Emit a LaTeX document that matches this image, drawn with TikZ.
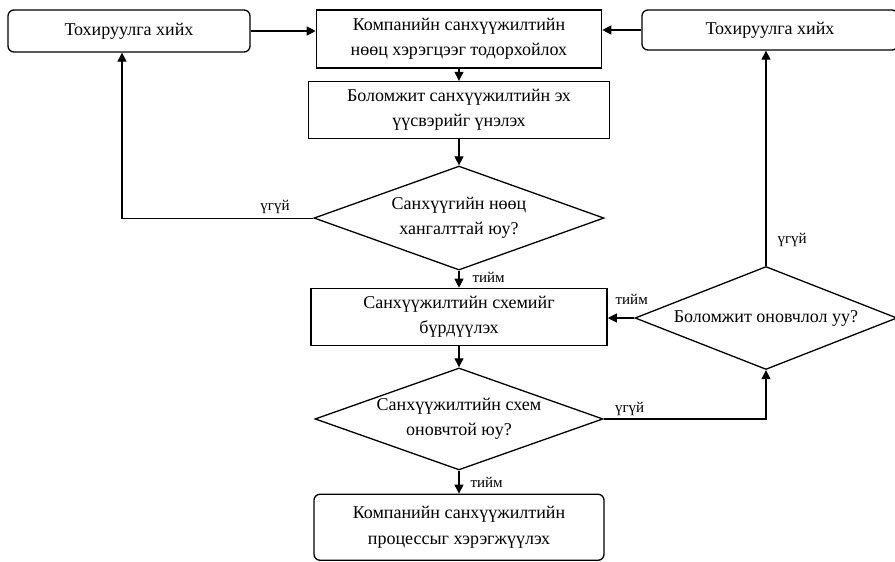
\documentclass[tikz,border=0pt]{standalone}
\usepackage{fontspec}
\setmainfont{Liberation Serif}
\usepackage{tikz}
\usetikzlibrary{arrows.meta,positioning,shapes.geometric}

\begin{document}
\begin{tikzpicture}[
			x=1pt,y=1pt,
			node distance=14pt,
			stepbox/.style={draw,line width=1.6pt,align=center,inner sep=2pt,font=\fontsize{18}{25}\selectfont},
			endbox/.style={draw,line width=1.3pt,rounded corners=6pt,align=center,inner sep=2pt,font=\fontsize{18}{26}\selectfont},
			cond/.style={draw,line width=1.3pt,diamond,aspect=2.8,inner sep=0pt,align=center,font=\fontsize{18}{25}\selectfont},
			arr/.style={-{Triangle[length=9pt,width=9pt]},line width=1.1pt},
			lbl/.style={font=\fontsize{15}{18}\selectfont,inner sep=1pt}
			]
			\useasboundingbox (0,0) rectangle (895,-562);
			% main column
			\node[stepbox,minimum width=285pt,minimum height=58pt] (need) at (459,-39) {Компанийн санхүүжилтийн\\нөөц хэрэгцээг тодорхойлох};
			\node[stepbox,minimum width=301pt,minimum height=57pt] (source) [below=12pt of need] {Боломжит санхүүжилтийн эх\\үүсвэрийг үнэлэх};
			\node[cond,minimum width=290pt,minimum height=104pt] (enough) [below=26pt of source] {Санхүүгийн нөөц\\хангалттай юу?};
			\node[stepbox,minimum width=296pt,minimum height=57pt] (scheme) [below=17pt of enough] {Санхүүжилтийн схемийг\\бүрдүүлэх};
			\node[cond,minimum width=288pt,minimum height=102pt] (optimal) [below=21pt of scheme] {Санхүүжилтийн схем\\оновчтой юу?};
			\node[endbox,minimum width=290pt,minimum height=66pt] (impl) [below=23pt of optimal] {Компанийн санхүүжилтийн\\процессыг хэрэгжүүлэх};
			% side nodes
			\node[endbox,minimum width=242pt,minimum height=42pt] (adjL) at (129,-31) {Тохируулга хийх};
			\node[endbox,minimum width=256pt,minimum height=40pt] (adjR) at (770,-30) {Тохируулга хийх};
			\node[cond,minimum width=262pt,minimum height=103pt] (possible) at (766,-318) {Боломжит оновчлол уу?};
			% connectors
			\draw[arr] (adjL.east) -- (adjL.east -| need.west);
			\draw[arr] (adjR.west) -- (adjR.west -| need.east);
			\draw[arr] (need) -- (source);
			\draw[arr] (source) -- (enough);
			\draw[arr] (enough.west) -| node[lbl,pos=0.1,above=3pt] {үгүй} ([xshift=-7pt]adjL.south);
			\draw[arr] (enough) -- node[lbl,right=12pt,pos=0.4] {тийм} (scheme);
			\draw[arr] (scheme) -- (optimal);
			\draw[arr] (possible.west) -- node[lbl,pos=0.1,above=12pt] {тийм} (possible.west -| scheme.east);
			\draw[arr] (possible) -- node[lbl,pos=0.12,right=10pt] {үгүй} (possible |- adjR.south);
			\draw[arr] (optimal.east) -| node[lbl,pos=0.08,above=2pt] {үгүй} (possible.south);
			\draw[arr] (optimal) -- node[lbl,right=10pt,pos=0.5] {тийм} (impl);
		\end{tikzpicture}
\end{document}
